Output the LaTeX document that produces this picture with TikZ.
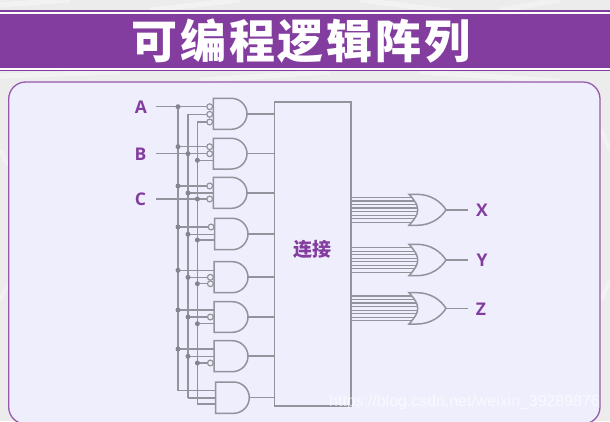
\documentclass[tikz,border=0pt]{standalone}
\usepackage{fontspec}
\setmainfont{Open Sans}
\newfontfamily\cjk[LetterSpace=6]{Noto Sans CJK SC}
\newfontfamily\cjkb{Noto Sans CJK SC}
\newfontfamily\wm{Liberation Sans}
\definecolor{bgc}{HTML}{ECECEC}
\definecolor{purp}{HTML}{833D9F}
\definecolor{cardc}{HTML}{EEEEFD}
\definecolor{wirec}{HTML}{93939C}
\definecolor{dotc}{HTML}{85858F}
\tikzset{
  wire/.style={draw=wirec,line width=1.5pt},
  gateshape/.style={draw=wirec,line width=1.5pt,fill=cardc},
  dotmark/.style={circle,fill=dotc,minimum size=5pt,inner sep=0pt},
  bubble/.style={circle,draw=wirec,line width=1.2pt,fill=cardc,minimum size=5.8pt,inner sep=0pt},
  siglabel/.style={text=purp,font=\fontsize{17.5}{17.5}\selectfont\bfseries},
}
% and gate: name, left, top, bottom, tip
\newcommand\andg[5]{%
  \coordinate (#1out) at (#5,{(#3+#4)/2});
  \draw[gateshape] (#2,#3) -- ({#5-15.7},#3) .. controls ({#5-7},#3) and (#5,{(#3+#4)/2-8.5}) .. (#5,{(#3+#4)/2})
     .. controls (#5,{(#3+#4)/2+8.5}) and ({#5-7},#4) .. ({#5-15.7},#4) -- (#2,#4) -- cycle;
  \draw[wire] (#1out) -- (#1out -| box.west);
}
% input: wire, y, left, dot(1/0), bubble(1/0)
\newcommand\inp[5]{%
  \coordinate (in) at (#3,#2);
  \draw[wire] (in -| #1) -- (in);
  \ifnum#4=1 \node[dotmark] at (in -| #1) {};\fi
  \ifnum#5=1 \node[bubble] at ({#3-3.6},#2) {};\fi
}
% or gate: name, top, bottom
\newcommand\org[3]{%
  \coordinate (#1tip) at (446,{(#2+#3)/2});
  \pgfmathsetmacro\mid{(#2+#3)/2}
  \foreach \k in {0,...,7}{
    \pgfmathsetmacro\yy{\mid-12.4+\k*3.55}
    \pgfmathsetmacro\xx{417.7-8.7*((\yy-\mid)/15.6)*((\yy-\mid)/15.6)}
    \coordinate (t) at (\xx,\yy);
    \draw[draw=wirec,line width=1.15pt] (t -| box.east) -- (t);
  }
  \draw[gateshape,fill=cardc] (409,#2) -- (417,#2) .. controls (431,#2) and (441,{\mid-8}) .. (#1tip)
    .. controls (441,{\mid+8}) and (431,#3) .. (417,#3) -- (409,#3)
    .. controls (415,{\mid+9}) and (417.7,{\mid+5}) .. (417.7,\mid)
    .. controls (417.7,{\mid-5}) and (415,{\mid-9}) .. (409,#2) -- cycle;
  \draw[wire] (#1tip) -- (467.7,\mid);
}
\begin{document}
\begin{tikzpicture}[x=1pt,y=-1pt]
\useasboundingbox (0,0) rectangle (610,421);
\fill[bgc] (0,0) rectangle (610,421);
\draw[white,opacity=.35,line width=5pt] (0,5) -- (70,0) (150,10) -- (240,0) (360,0) -- (450,11) (500,10) -- (560,0);
\draw[white,opacity=.35,line width=5pt] (0,76) -- (120,72) (200,80) -- (330,72) (420,72) -- (560,81);
\draw[white,opacity=.35,line width=4pt] (0,150) -- (8,165) (0,300) -- (8,285) (601,130) -- (610,150) (601,300) -- (610,280);
% banner
\fill[white] (0,11) rectangle (610,71);
\fill[purp] (0,14) rectangle (610,67.6);
\draw[purp,line width=1.3pt] (0,11) -- (610,11) (0,70.6) -- (610,70.6);
\node[text=white,font={\cjk\bfseries\fontsize{46}{46}\selectfont}] (title) at (301,41) {可编程逻辑阵列};
% card
\draw[draw=purp!85!white,line width=1.3pt,fill=cardc,rounded corners=17pt] (8.7,82) rectangle (600,424);
% central box
\node[draw=wirec,line width=1.5pt,fill=cardc,minimum width=76.7pt,minimum height=303.7pt,inner sep=0pt] (box) at (312.7,253.9) {};
\node[text=purp,font={\cjkb\bfseries\fontsize{19}{19}\selectfont}] (boxlabel) at (312,249.5) {连接};
% buses
\coordinate (w1) at (178,106.7);
\coordinate (w2) at (188,114.3);
\coordinate (w3) at (197.4,122);
\coordinate (w1e) at (178,390.7);
\coordinate (w2e) at (188,398);
\coordinate (w3e) at (197.4,404);
\draw[wire] (w1) -- (w1e) (w2) -- (w2e) (w3) -- (w3e);
% input signals
\node[siglabel] (A) at (141,107) {A};
\node[siglabel] (B) at (140.5,154) {B};
\node[siglabel] (C) at (140.5,199) {C};
\coordinate (Aend) at (156,106.7);
\coordinate (Bend) at (156,153.7);
\coordinate (Cend) at (156,199);
\draw[wire] (Aend) -- (w1);
\draw[wire] (Bend) -- (w2 |- Bend);
\draw[wire] (Cend) -- (w3 |- Cend);
% AND gates
\inp{w1}{106.7}{213.3}{1}{1}\inp{w2}{114.3}{213.3}{0}{1}\inp{w3}{122}{213.3}{0}{1}
\andg{g1}{213.3}{98.3}{129.3}{247}
\inp{w1}{146.7}{213.3}{1}{1}\inp{w2}{153.7}{213.3}{1}{1}\inp{w3}{160.3}{213.3}{1}{0}
\andg{g2}{213.3}{138.3}{169}{247}
\inp{w1}{186}{213.3}{1}{1}\inp{w2}{193}{213.3}{1}{0}\inp{w3}{199}{213.3}{1}{1}
\andg{g3}{213.3}{177.3}{208.3}{247}
\inp{w1}{227}{214.7}{1}{1}\inp{w2}{234.3}{214.7}{1}{0}\inp{w3}{240}{214.7}{1}{0}
\andg{g4}{214.7}{218.3}{249.7}{248}
\inp{w1}{270.3}{214}{1}{0}\inp{w2}{277.3}{214}{1}{1}\inp{w3}{283.7}{214}{1}{1}
\andg{g5}{214}{261.7}{292.7}{248}
\inp{w1}{310}{214}{1}{0}\inp{w2}{317}{214}{1}{1}\inp{w3}{323.7}{214}{1}{0}
\andg{g6}{214}{301.7}{332.3}{248}
\inp{w1}{349}{214}{1}{0}\inp{w2}{356.3}{214}{1}{0}\inp{w3}{363}{214}{1}{1}
\andg{g7}{214}{340.7}{371.7}{248}
\inp{w1}{390.7}{215.7}{0}{0}\inp{w2}{398}{215.7}{0}{0}\inp{w3}{404}{215.7}{0}{0}
\andg{g8}{215.7}{382}{413.3}{249.3}
% OR gates
\org{x}{194.3}{225.3}
\org{y}{244.3}{275.7}
\org{z}{292.7}{324}
\node[siglabel] (X) at (482,210) {X};
\node[siglabel] (Y) at (482,260) {Y};
\node[siglabel] (Z) at (481,309) {Z};
% watermark
\node[anchor=west,inner sep=0pt,text=white,opacity=.65,font={\wm\fontsize{15.9}{15.9}\selectfont}] (mark) at (329,402) {https://blog.csdn.net/weixin\_39289876};
\end{tikzpicture}
\end{document}
